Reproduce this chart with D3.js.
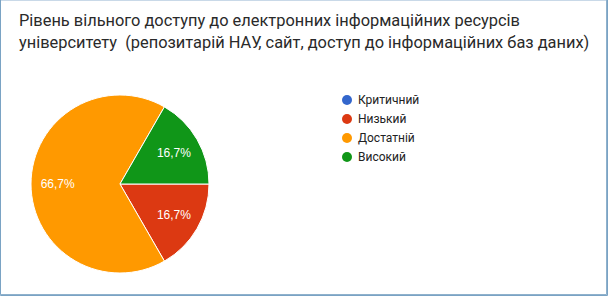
<!DOCTYPE html>
<html>
<head>
<meta charset="utf-8">
<script src="https://cdn.jsdelivr.net/npm/d3@7"></script>
<style>
    body { margin: 0; background: #fff; }
    #chart { width: 608px; height: 296px; }
</style>
</head>
<body>
<div id="chart"></div>
<script>
const titleLines = [
    'Рівень вільного доступу до електронних інформаційних ресурсів',
    'університету  (репозитарій НАУ, сайт, доступ до інформаційних баз даних)'
];
const categories = ['Критичний', 'Низький', 'Достатній', 'Високий'];
const values = [0, 16.7, 66.7, 16.7];
const colors = ['#3366cc', '#dc3912', '#ff9900', '#109618'];

const element = document.getElementById('chart');
const width = 608;
const height = 296;

const svg = d3.select(element)
    .append('svg')
    .attr('width', width)
    .attr('height', height);

// frame
svg.append('rect')
    .attr('x', 0.5).attr('y', 0.5)
    .attr('width', width - 2).attr('height', height - 2)
    .attr('fill', '#fff')
    .attr('stroke', '#c9d9e8');
svg.append('path')
    .attr('d', `M0.5,0 V${height - 0.5} H${width - 0.5} V0`)
    .attr('fill', 'none')
    .attr('stroke', '#7aa3c4')
    .attr('stroke-width', 1);
svg.append('path')
    .attr('d', `M0,${height - 1.5} H${width - 1.5} V0`)
    .attr('fill', 'none')
    .attr('stroke', '#8fb1cc')
    .attr('stroke-width', 1);

svg.append('g')
    .selectAll('text')
    .data(titleLines)
    .enter().append('text')
    .attr('x', 19)
    .attr('y', (d, i) => 26 + i * 22)
    .attr('font-family', 'Roboto, sans-serif')
    .attr('font-size', 16.4)
    .attr('fill', '#2a2a2a')
    .style('white-space', 'pre')
    .text(d => d);

const cx = 120;
const cy = 184;
const radius = 89;

const pie = d3.pie()
    .sort(null)
    .startAngle(Math.PI / 2)
    .endAngle(Math.PI / 2 + 2 * Math.PI)
    .value(d => d.value);

const data = categories.map((c, i) => ({name: c, value: values[i], color: colors[i]}));
const arcs = pie(data);

const arc = d3.arc().innerRadius(0).outerRadius(radius);
const labelArc = d3.arc().innerRadius(radius * 0.7).outerRadius(radius * 0.7);

const g = svg.append('g')
    .attr('transform', `translate(${cx},${cy})`);

g.selectAll('.slice')
    .data(arcs.filter(d => d.data.value > 0))
    .enter().append('path')
    .attr('class', 'slice')
    .attr('fill', d => d.data.color)
    .attr('stroke', '#fff')
    .attr('stroke-width', 1)
    .attr('d', arc);

g.selectAll('.label')
    .data(arcs.filter(d => d.data.value > 0))
    .enter().append('text')
    .attr('class', 'label')
    .attr('transform', d => `translate(${labelArc.centroid(d)})`)
    .attr('dy', '0.35em')
    .attr('text-anchor', 'middle')
    .attr('font-family', 'Arial, Liberation Sans, sans-serif')
    .attr('font-size', 12)
    .attr('fill', '#fff')
    .text(d => d.data.value.toFixed(1).replace('.', ',') + '%');

const legend = svg.append('g')
    .selectAll('g')
    .data(data)
    .enter().append('g')
    .attr('transform', (d, i) => `translate(347,${100 + i * 19})`);

legend.append('circle')
    .attr('r', 5)
    .attr('fill', d => d.color);

legend.append('text')
    .attr('x', 11)
    .attr('dy', '0.35em')
    .attr('font-family', 'Roboto, sans-serif')
    .attr('font-size', 12)
    .attr('fill', '#222')
    .text(d => d.name);
</script>
</body>
</html>
